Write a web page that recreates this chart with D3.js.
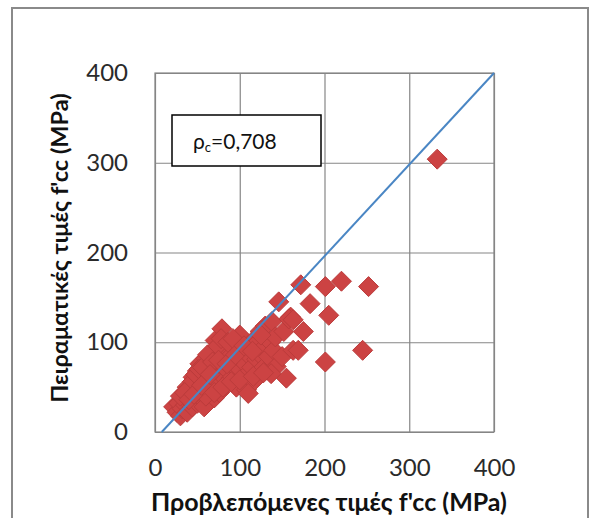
<!DOCTYPE html>
<html>
<head>
<meta charset="utf-8">
<script src="https://cdn.jsdelivr.net/npm/d3@7"></script>
<style>
    html, body { margin: 0; padding: 0; background: #fff; }
    svg { display: block; font-family: Lato, "Open Sans", sans-serif; }
</style>
</head>
<body>
<svg id="chart" width="590" height="518"></svg>
<script>
const predicted = [
    22, 26, 28, 30, 32, 34, 36, 38, 40, 42, 44, 46, 48, 50, 52, 54, 56, 58,
    38, 45, 53, 50, 58, 60, 62, 64, 66, 68, 70, 60, 66, 71, 72, 74, 76, 78,
    79, 80, 82, 84, 86, 85, 88, 90, 92, 94, 96, 98, 100, 100, 102, 104, 106, 108,
    110, 112, 114, 116, 118, 120, 120, 122, 124, 126, 128, 130, 132, 134, 136, 138,
    140, 142, 143, 146, 150, 155, 152, 160, 163, 169, 175, 172, 183, 201, 205, 201,
    220, 252, 245, 333, 110, 137, 158, 163,
    44, 48, 52, 56, 62, 68, 74, 78, 86, 92,
    60, 70, 80, 90, 100, 116, 128,
    30, 35, 40, 46, 55, 65, 75, 85, 95, 105, 115, 125
];
const experimental = [
    28, 22, 32, 18, 26, 38, 30, 22, 44, 34, 28, 50, 40, 32, 58, 46, 36, 28,
    50, 61, 76, 68, 66, 52, 42, 74, 60, 48, 38, 82, 88, 102, 70, 56, 44, 64,
    115, 90, 78, 52, 68, 92, 84, 60, 74, 96, 50, 88, 108, 70, 80, 94, 62, 47,
    86, 98, 72, 56, 104, 99, 81, 88, 112, 70, 94, 118, 69, 84, 100, 123,
    91, 106, 73, 145, 84, 60, 112, 128, 91, 91, 112, 164, 143, 162, 130, 78,
    168, 162, 91, 304, 43, 65, 126, 125,
    56, 64, 70, 72, 86, 78, 96, 104, 100, 104,
    40, 44, 50, 56, 58, 62, 66,
    40, 44, 36, 42, 52, 64, 80, 76, 86, 96, 90, 108
];
const refLine = [[8, 0], [400, 400]];
const tickValues = [0, 100, 200, 300, 400];
const xTitle = "Προβλεπόμενες τιμές f'cc (MPa)";
const yTitle = "Πειραματικές τιμές f'cc (MPa)";
const rhoLabel = "0,708";

const svg = d3.select("#chart");

// outer chart frame
svg.append("rect")
    .attr("x", 12).attr("y", 8)
    .attr("width", 576).attr("height", 530)
    .attr("fill", "#fff")
    .attr("stroke", "#8a8a8a")
    .attr("stroke-width", 2);

const x = d3.scaleLinear().domain([0, 400]).range([155, 494]);
const y = d3.scaleLinear().domain([0, 400]).range([432, 73]);

/**
 * Grid + tick labels through the axis generators
 */
const xAxis = svg.append("g")
    .attr("transform", `translate(0,${y(0)})`)
    .call(d3.axisBottom(x).tickValues(tickValues)
        .tickSizeInner(-(y(0) - y(400))).tickSizeOuter(0).tickPadding(27));

const yAxis = svg.append("g")
    .attr("transform", `translate(${x(0)},0)`)
    .call(d3.axisLeft(y).tickValues(tickValues)
        .tickSizeInner(-(x(400) - x(0))).tickSizeOuter(0).tickPadding(27));

[xAxis, yAxis].forEach(g => {
    g.select(".domain").remove();
    g.selectAll("line").attr("stroke", "#868686").attr("stroke-width", 1.2);
    g.selectAll("text")
        .attr("fill", "#2a2a2a")
        .style("font-size", "24px")
        .style("font-family", "Lato, sans-serif");
});

// plot border
svg.append("rect")
    .attr("x", x(0)).attr("y", y(400))
    .attr("width", x(400) - x(0)).attr("height", y(0) - y(400))
    .attr("fill", "none")
    .attr("stroke", "#868686")
    .attr("stroke-width", 1.2);

// label box
const box = svg.append("g");
box.append("rect")
    .attr("x", 172).attr("y", 115)
    .attr("width", 149).attr("height", 51)
    .attr("fill", "#fff")
    .attr("stroke", "#000")
    .attr("stroke-width", 1.5);
const boxText = box.append("text")
    .attr("x", 193).attr("y", 149)
    .attr("fill", "#111")
    .style("font-size", "21px");
boxText.append("tspan").text("ρ");
boxText.append("tspan").attr("dy", 3).style("font-size", "13px").text("c");
boxText.append("tspan").attr("dy", -3).text("=" + rhoLabel);

// markers
const points = predicted.map((p, i) => ({ p, e: experimental[i] }));
const r = 10;
svg.append("g")
    .selectAll("path")
    .data(points)
    .join("path")
    .attr("transform", d => `translate(${x(d.p)},${y(d.e)})`)
    .attr("d", `M0,${-r}L${r},0L0,${r}L${-r},0Z`)
    .attr("fill", "#cc4343")
    .attr("stroke", "#bb3b3b")
    .attr("stroke-width", 1);

// reference line
svg.append("path")
    .datum(refLine)
    .attr("d", d3.line().x(d => x(d[0])).y(d => y(d[1])))
    .attr("fill", "none")
    .attr("stroke", "#4a86c4")
    .attr("stroke-width", 2);

// axis titles
svg.append("text")
    .attr("x", 329).attr("y", 511)
    .attr("text-anchor", "middle")
    .attr("fill", "#111")
    .style("font-size", "25px")
    .style("font-weight", "bold")
    .text(xTitle);

svg.append("text")
    .attr("transform", "translate(68,248) rotate(-90)")
    .attr("text-anchor", "middle")
    .attr("fill", "#111")
    .style("font-size", "23.5px")
    .style("font-weight", "bold")
    .text(yTitle);
</script>
</body>
</html>
